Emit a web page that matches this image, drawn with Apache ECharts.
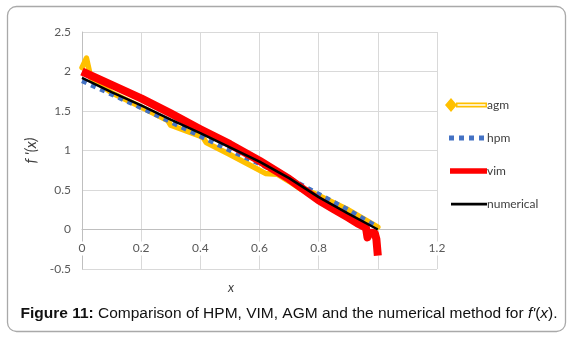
<!DOCTYPE html>
<html>
<head>
<meta charset="utf-8">
<script src="https://cdn.jsdelivr.net/npm/echarts@6/dist/echarts.min.js"></script>
<style>
  html, body { margin: 0; padding: 0; background: #fff; }
  #chart { width: 574px; height: 341px; }
</style>
</head>
<body>
<div id="chart"></div>
<script>
// values
var agmX = [0, 0.015, 0.03, 0.1, 0.2, 0.29, 0.3, 0.4, 0.41, 0.42, 0.5, 0.62, 0.66, 0.7, 0.74, 0.76, 0.8, 0.9, 1.0];
var agmY = [2.05, 2.17, 1.92, 1.73, 1.55, 1.38, 1.32, 1.18, 1.16, 1.1, 0.95, 0.71, 0.7, 0.61, 0.51, 0.5, 0.43, 0.25, 0.03];

var hpmX = [0, 0.1, 0.2, 0.3, 0.4, 0.5, 0.6, 0.7, 0.8, 0.9, 1.0];
var hpmY = [1.88, 1.71, 1.54, 1.36, 1.18, 1.0, 0.83, 0.65, 0.45, 0.25, 0.03];

var vimX = [0, 0.1, 0.2, 0.3, 0.4, 0.5, 0.6, 0.7, 0.8, 0.85, 0.9, 0.93, 0.95, 0.96, 0.965, 0.97, 0.98, 0.99, 0.995, 1.0];
var vimY = [2.0, 1.83, 1.66, 1.47, 1.27, 1.08, 0.87, 0.64, 0.37, 0.26, 0.15, 0.08, 0.04, 0.02, -0.1, -0.05, -0.04, -0.05, -0.12, -0.33];

var numX = [0, 0.1, 0.2, 0.3, 0.4, 0.5, 0.6, 0.7, 0.8, 0.9, 1.0];
var numY = [1.92, 1.74, 1.57, 1.39, 1.22, 1.04, 0.86, 0.65, 0.41, 0.2, 0.0];

function pairs(xs, ys) {
  return xs.map(function (x, i) { return [x, ys[i]]; });
}

// legend icons drawn in a 42x14 box (tiny corner dots fix the box)
var box = 'M0,0h0.01v0.01z M41.99,13.99h0.01v0.01z ';
var iconAgm = 'path://' + box + 'M0,7L6,0L12,7L6,14Z M11,4.5H42V9.5H11Z M12.5,6.2V7.8H40.5V6.2Z';
var iconHpm = 'path://' + box + 'M4,4.5h5v5h-5z M14,4.5h5v5h-5z M24,4.5h5v5h-5z M34,4.5h5v5h-5z';
var iconVim = 'path://' + box + 'M5,4.3H42V9.8H5Z';
var iconNum = 'path://' + box + 'M6,5.8H42V8.4H6Z';

var font = 'Lato';
var capFont = 'Liberation Sans';
var myChart = echarts.init(document.getElementById('chart'));
var option = {
  animation: false,
  title: {
    text: '{b|Figure 11:} Comparison of HPM, VIM, AGM and the numerical method for {i|f\'}({i|x}).',
    left: 20.5,
    top: 306,
    padding: 0,
    textStyle: {
      fontFamily: capFont,
      fontSize: 15.5,
      fontWeight: 'normal',
      color: '#111',
      rich: {
        b: { fontFamily: capFont, fontSize: 15.5, fontWeight: 'bold', color: '#111' },
        i: { fontFamily: capFont, fontSize: 15.5, fontStyle: 'italic', color: '#111' }
      }
    }
  },
  grid: {
    left: 82,
    right: 137,
    top: 32,
    bottom: 72
  },
  legend: {
    orient: 'vertical',
    left: 440,
    top: 93,
    itemWidth: 42,
    itemHeight: 14,
    itemGap: 19,
    itemStyle: { borderWidth: 0 },
    textStyle: { fontFamily: font, fontSize: 12, color: '#404040', padding: [0, 0, 0, -5] },
    data: [
      { name: 'agm', icon: iconAgm },
      { name: 'hpm', icon: iconHpm },
      { name: 'vim', icon: iconVim },
      { name: 'numerical', icon: iconNum }
    ]
  },
  graphic: [
    {
      type: 'rect',
      shape: { x: 7.5, y: 6.5, width: 558, height: 325, r: 9 },
      style: { fill: 'none', stroke: '#a9a9a9', lineWidth: 1.3 },
      silent: true
    },
    {
      type: 'text',
      left: 228,
      top: 281,
      style: { text: 'x', fontFamily: font, fontSize: 13, fontStyle: 'italic', fill: '#404040' }
    }
  ],
  xAxis: {
    type: 'value',
    min: 0,
    max: 1.2,
    interval: 0.2,
    // labels sit under the zero line, as in the figure
    offset: -39.5,
    axisLine: { show: true, onZero: false, lineStyle: { color: '#bfbfbf', width: 1 } },
    axisTick: { show: false },
    axisLabel: {
      margin: 12, fontFamily: font, fontSize: 12, color: '#595959',
      backgroundColor: '#fff', padding: [1, 1]
    },
    splitLine: { show: true, lineStyle: { color: '#d9d9d9', width: 1 } }
  },
  yAxis: {
    type: 'value',
    min: -0.5,
    max: 2.5,
    interval: 0.5,
    name: "f '(x)",
    nameLocation: 'middle',
    nameGap: 41,
    nameTextStyle: { fontFamily: font, fontSize: 15, fontStyle: 'italic', color: '#404040' },
    axisLine: { show: true, lineStyle: { color: '#bfbfbf', width: 1 } },
    axisTick: { show: false },
    axisLabel: { margin: 11, fontFamily: font, fontSize: 12, color: '#595959' },
    splitLine: { show: true, lineStyle: { color: '#d9d9d9', width: 1 } }
  },
  series: [
    {
      name: 'agm',
      type: 'line',
      showSymbol: false,
      color: '#ffc000',
      lineStyle: { color: '#ffc000', width: 5.5, join: 'round', cap: 'round' },
      data: pairs(agmX, agmY)
    },
    {
      name: 'hpm',
      type: 'line',
      showSymbol: false,
      color: '#4472c4',
      lineStyle: { color: '#4472c4', width: 4.5, type: [5, 5], cap: 'butt' },
      data: pairs(hpmX, hpmY)
    },
    {
      name: 'vim',
      type: 'line',
      showSymbol: false,
      color: '#ff0000',
      lineStyle: { color: '#ff0000', width: 8, join: 'round' },
      data: pairs(vimX, vimY)
    },
    {
      name: 'numerical',
      type: 'line',
      showSymbol: false,
      color: '#000000',
      lineStyle: { color: '#000000', width: 2.5 },
      data: pairs(numX, numY)
    }
  ]
};
myChart.setOption(option);
</script>
</body>
</html>
